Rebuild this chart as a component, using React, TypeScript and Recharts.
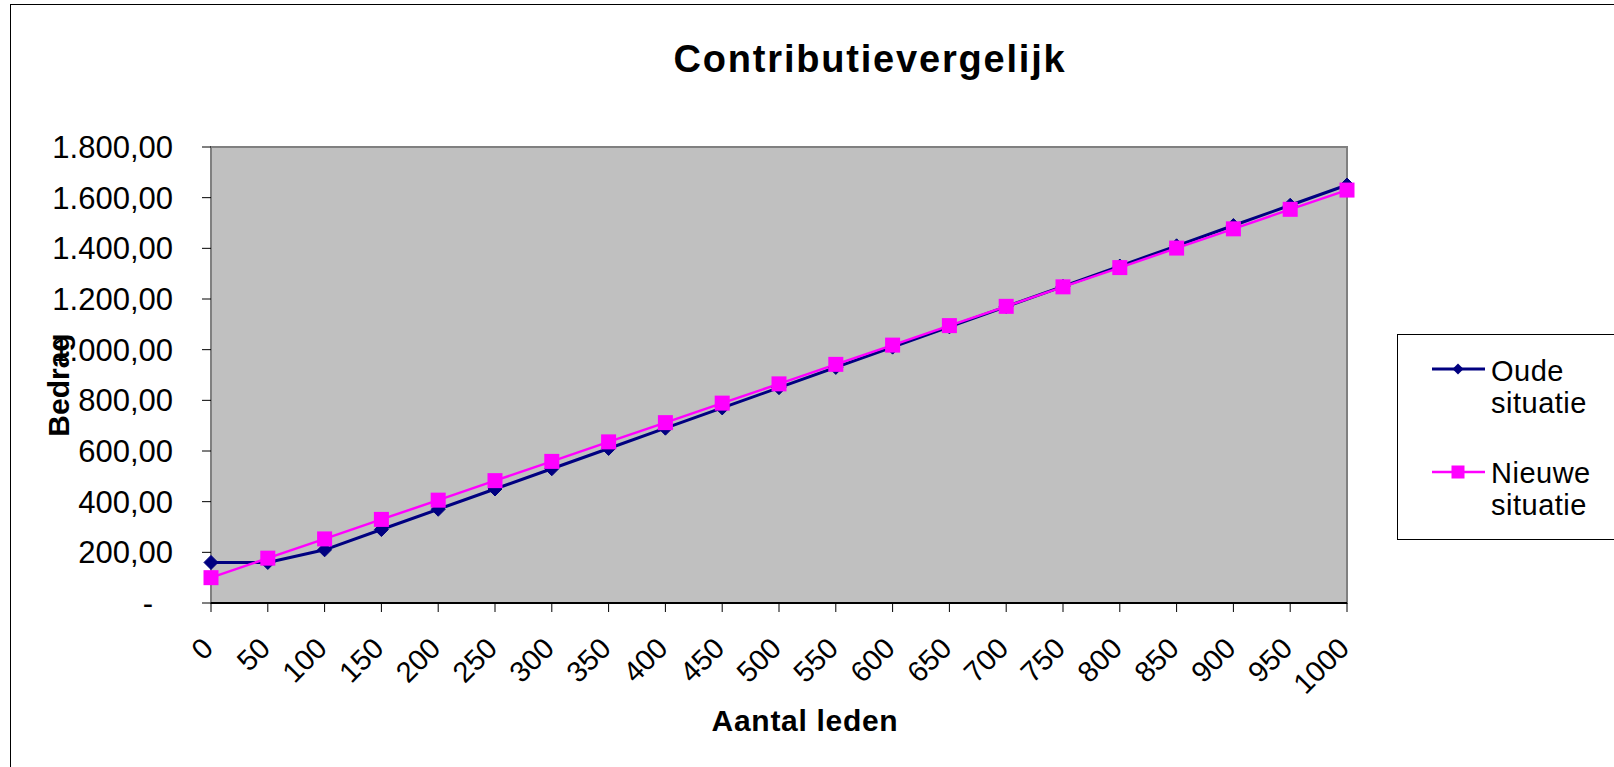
import { LineChart, Line, XAxis, YAxis, ReferenceArea, Legend } from "recharts";

// aantal leden (categorieën op de x-as)
const leden = [0, 50, 100, 150, 200, 250, 300, 350, 400, 450, 500, 550, 600, 650, 700, 750, 800, 850, 900, 950, 1000];
// bedragen
const oudeSituatie = [160, 160, 210, 290, 370, 450, 530, 610, 690, 770, 850, 930, 1010, 1090, 1170, 1250, 1330, 1410, 1490, 1570, 1650];
const nieuweSituatie = [100, 177, 253, 330, 406, 483, 559, 636, 712, 789, 865, 942, 1018, 1095, 1171, 1248, 1324, 1401, 1477, 1554, 1630];
const bedragTicks = [0, 200, 400, 600, 800, 1000, 1200, 1400, 1600, 1800];

const data = leden.map((l, i) => ({ leden: l, oude: oudeSituatie[i], nieuwe: nieuweSituatie[i] }));

const FONT = '"Liberation Sans", Arial, sans-serif';
const NAVY = "#000080";
const MAGENTA = "#FF00FF";

function formatBedrag(v: number) {
  if (v === 0) return "-";
  const [int, dec] = v.toFixed(2).split(".");
  return int.replace(/\B(?=(\d{3})+(?!\d))/g, ".") + "," + dec;
}

function YTick({ x, y, payload }: any) {
  const v = payload.value;
  return (
    <text x={v === 0 ? x - 20 : x} y={y} dy="0.36em" textAnchor="end" fontSize={31} fontFamily={FONT} fill="#000">
      {formatBedrag(v)}
    </text>
  );
}

function XTick({ x, y, payload }: any) {
  const ex = x + 4;
  const ey = y + 36;
  return (
    <text x={ex} y={ey} textAnchor="end" transform={`rotate(-45 ${ex} ${ey})`} fontSize={29} fontFamily={FONT} fill="#000">
      {payload.value}
    </text>
  );
}

function Diamond(props: any) {
  const { cx, cy, index } = props;
  if (cx == null || cy == null) return <g key={`o-${index}`} />;
  const r = 7;
  return (
    <path key={`o-${index}`} d={`M${cx} ${cy - r}L${cx + r} ${cy}L${cx} ${cy + r}L${cx - r} ${cy}Z`} fill={NAVY} stroke={NAVY} />
  );
}

function Square(props: any) {
  const { cx, cy, index } = props;
  if (cx == null || cy == null) return <g key={`n-${index}`} />;
  const s = 15;
  return <rect key={`n-${index}`} x={cx - s / 2} y={cy - s / 2} width={s} height={s} fill={MAGENTA} />;
}

function LegendBox() {
  const txt = { fontSize: 29, fontFamily: FONT, fill: "#000", letterSpacing: 0.5 };
  return (
    <svg width={240} height={207} style={{ display: "block" }}>
      <rect x={0.5} y={0.5} width={300} height={205} fill="#fff" stroke="#000" />
      <line x1={35} x2={88} y1={35} y2={35} stroke={NAVY} strokeWidth={3} />
      <path d="M61 29.5L66.5 35L61 40.5L55.5 35Z" fill={NAVY} />
      <text x={94} y={47} {...txt}>Oude</text>
      <text x={94} y={79} {...txt}>situatie</text>
      <line x1={35} x2={88} y1={138} y2={138} stroke={MAGENTA} strokeWidth={2.5} />
      <rect x={54.5} y={131.5} width={13} height={13} fill={MAGENTA} />
      <text x={94} y={149} {...txt}>Nieuwe</text>
      <text x={94} y={181} {...txt}>situatie</text>
    </svg>
  );
}

export default function App() {
  return (
    <div style={{ position: "absolute", left: 0, top: 0, width: 1614, height: 767, overflow: "hidden", background: "#fff" }}>
      <div
        style={{
          position: "absolute",
          left: 10,
          top: 4,
          width: 1700,
          height: 800,
          borderLeft: "1px solid #000",
          borderTop: "1px solid #000",
        }}
      />
      <div
        style={{
          position: "absolute",
          left: 0,
          top: 40,
          width: 1740,
          textAlign: "center",
          fontFamily: FONT,
          fontWeight: "bold",
          fontSize: 38,
          lineHeight: "38px",
          letterSpacing: 1.8,
          color: "#000",
        }}
      >
        Contributievergelijk
      </div>
      <div style={{ position: "absolute", left: 0, top: 0 }}>
        <LineChart width={1614} height={767} data={data} margin={{ top: 147, right: 267, bottom: 0, left: 0 }}>
          <ReferenceArea
            x1={0}
            x2={1000}
            y1={0}
            y2={1800}
            fill="#C0C0C0"
            fillOpacity={1}
            stroke="#808080"
            strokeWidth={2}
            ifOverflow="visible"
          />
          <XAxis
            dataKey="leden"
            type="number"
            domain={[0, 1000]}
            ticks={leden}
            interval={0}
            height={164}
            tickSize={9}
            axisLine={{ stroke: "#000", strokeWidth: 2 }}
            tickLine={{ stroke: "#000" }}
            tick={<XTick />}
            label={{
              content: ({ viewBox }: any) => (
                <text
                  x={viewBox.x + viewBox.width / 2 + 26}
                  y={731}
                  textAnchor="middle"
                  fontSize={30}
                  fontWeight="bold"
                  fontFamily={FONT}
                  letterSpacing={0.7}
                  fill="#000"
                >
                  Aantal leden
                </text>
              ),
            }}
          />
          <YAxis
            type="number"
            domain={[0, 1800]}
            ticks={bedragTicks}
            interval={0}
            width={211}
            tickSize={9}
            tickMargin={29}
            axisLine={false}
            tickLine={{ stroke: "#000" }}
            tick={<YTick />}
            label={{
              content: () => (
                <text
                  x={58}
                  y={385}
                  transform="rotate(-90 58 385)"
                  textAnchor="middle"
                  dominantBaseline="central"
                  fontSize={30}
                  fontWeight="bold"
                  fontFamily={FONT}
                  fill="#000"
                >
                  Bedrag
                </text>
              ),
            }}
          />
          <Line
            type="linear"
            dataKey="oude"
            name="Oude situatie"
            stroke={NAVY}
            strokeWidth={3}
            dot={Diamond}
            activeDot={false}
            isAnimationActive={false}
          />
          <Line
            type="linear"
            dataKey="nieuwe"
            name="Nieuwe situatie"
            stroke={MAGENTA}
            strokeWidth={2.5}
            dot={Square}
            activeDot={false}
            isAnimationActive={false}
          />
          <Legend
            layout="vertical"
            align="center"
            verticalAlign="middle"
            wrapperStyle={{ left: 1397, top: 334, width: 240, height: 207 }}
            content={() => <LegendBox />}
          />
        </LineChart>
      </div>
    </div>
  );
}
